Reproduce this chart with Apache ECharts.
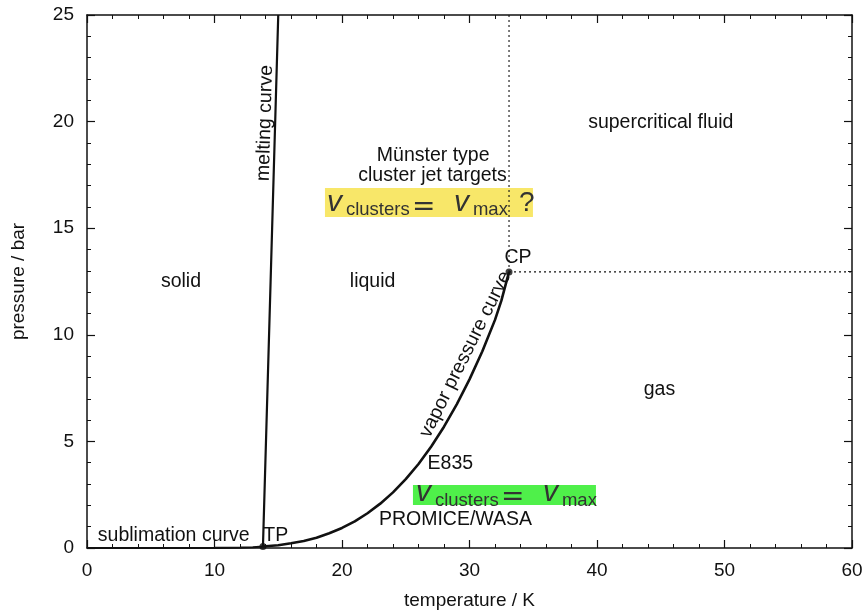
<!DOCTYPE html>
<html>
<head>
<meta charset="utf-8">
<title>Phase diagram of hydrogen</title>
<script src="https://cdn.jsdelivr.net/npm/echarts@6/dist/echarts.min.js"></script>
<style>
  html, body { margin: 0; padding: 0; background: #fff; }
  #chart { width: 868px; height: 610px; }
</style>
</head>
<body>
<div id="chart"></div>
<script>
// Vapor pressure curve (liquid–gas boundary), temperature in K, pressure in bar
const vaporT = [13.8, 14, 15, 16, 17, 18, 19, 20, 21, 22, 23, 24, 25, 26, 27, 28, 29, 30, 31, 32, 32.5, 33.1];
const vaporP = [0.07, 0.08, 0.13, 0.22, 0.33, 0.48, 0.69, 0.94, 1.25, 1.63, 2.08, 2.61, 3.23, 3.94, 4.76, 5.69, 6.74, 7.91, 9.22, 10.7, 11.6, 12.95];

// Melting curve (solid–liquid boundary)
const meltT = [13.8, 14.4, 15.0];
const meltP = [0.07, 12.5, 25];

// Sublimation curve (solid–gas boundary)
const sublT = [0, 4, 8, 10, 12, 13, 13.8];
const sublP = [0, 0, 0.0001, 0.003, 0.016, 0.035, 0.07];

// Triple point and critical point
const triplePoint = [13.8, 0.07];
const criticalPoint = [33.1, 12.95];

// Axis ranges and ticks
const tempRange = [0, 60];
const presRange = [0, 25];
const tempStep = 10;
const presStep = 5;

const FONT = 'Liberation Sans, Arial, Helvetica, sans-serif';
const INK = '#111';

const zip = (xs, ys) => xs.map((x, i) => [x, ys[i]]);

const chart = echarts.init(document.getElementById('chart'), null, { renderer: 'canvas' });

const frameLine = { show: true, onZero: false, lineStyle: { color: INK, width: 1.5 } };
const majorTick = { show: true, inside: true, length: 8, lineStyle: { color: INK, width: 1.2 } };
const minorTick = { show: true, splitNumber: 5, length: 4, lineStyle: { color: INK, width: 1 } };

const option = {
  backgroundColor: '#fff',
  animation: false,
  grid: { left: 87, right: 16, top: 15, bottom: 62, containLabel: false, outerBoundsMode: 'none' },
  xAxis: [
    {
      type: 'value', min: tempRange[0], max: tempRange[1], interval: tempStep,
      position: 'bottom',
      axisLine: frameLine, axisTick: majorTick, minorTick: minorTick,
      splitLine: { show: false },
      axisLabel: { color: INK, fontFamily: FONT, fontSize: 19, margin: 13 },
      name: 'temperature / K', nameLocation: 'middle', nameGap: 43,
      nameTextStyle: { color: INK, fontFamily: FONT, fontSize: 19 }
    },
    {
      type: 'value', min: tempRange[0], max: tempRange[1], interval: tempStep,
      position: 'top',
      axisLine: frameLine, axisTick: majorTick, minorTick: minorTick,
      splitLine: { show: false }, axisLabel: { show: false }
    }
  ],
  yAxis: [
    {
      type: 'value', min: presRange[0], max: presRange[1], interval: presStep,
      position: 'left',
      axisLine: frameLine, axisTick: majorTick, minorTick: minorTick,
      splitLine: { show: false },
      axisLabel: { color: INK, fontFamily: FONT, fontSize: 19, margin: 13 },
      name: 'pressure / bar', nameLocation: 'middle', nameGap: 59,
      nameTextStyle: { color: INK, fontFamily: FONT, fontSize: 19 }
    },
    {
      type: 'value', min: presRange[0], max: presRange[1], interval: presStep,
      position: 'right',
      axisLine: frameLine, axisTick: majorTick, minorTick: minorTick,
      splitLine: { show: false }, axisLabel: { show: false }
    }
  ],
  series: [
    {
      name: 'sublimation', type: 'line', data: zip(sublT, sublP),
      showSymbol: false, clip: true,
      lineStyle: { color: INK, width: 2.2 }, z: 3
    },
    {
      name: 'melting', type: 'line', data: zip(meltT, meltP),
      showSymbol: false, clip: true,
      lineStyle: { color: INK, width: 2.2 }, z: 3
    },
    {
      name: 'vapor', type: 'line', data: zip(vaporT, vaporP),
      showSymbol: false, smooth: false, clip: true,
      lineStyle: { color: INK, width: 2.6, join: 'round' }, z: 3
    },
    {
      name: 'critical isotherm', type: 'line',
      data: [criticalPoint, [criticalPoint[0], presRange[1]]],
      showSymbol: false, clip: true,
      lineStyle: { color: INK, width: 1.1, type: [2, 3] }, z: 2
    },
    {
      name: 'critical isobar', type: 'line',
      data: [criticalPoint, [tempRange[1], criticalPoint[1]]],
      showSymbol: false, clip: true,
      lineStyle: { color: INK, width: 1.1, type: [2, 3] }, z: 2
    },
    {
      name: 'points', type: 'scatter', data: [triplePoint, criticalPoint],
      symbol: 'circle', symbolSize: 7, itemStyle: { color: INK }, z: 4
    }
  ]
};

chart.setOption(option);

// ---- annotations anchored to data coordinates ----
const px = (x, y) => chart.convertToPixel({ gridIndex: 0 }, [x, y]);

function label(text, at, opts) {
  const p = px(at[0], at[1]);
  const o = opts || {};
  return {
    type: 'text', x: p[0], y: p[1], z: 10,
    rotation: (o.angle || 0) * Math.PI / 180,
    style: {
      text: text, fill: INK, fontFamily: FONT, fontSize: o.size || 19.5,
      align: 'center', verticalAlign: 'middle',
      textAlign: 'center', textVerticalAlign: 'middle'
    }
  };
}

// v_clusters = v_max, optionally followed by a question mark.
// Pieces are placed by their vertical middle; offsets are relative to the baseline of "v".
function velocityEquation(at, box, withQuestion, fillColor) {
  const p = px(at[0], at[1]);
  const MATH = 'Liberation Sans, Arial, sans-serif';
  const txtCol = '#333';
  const piece = (text, x, baseline, size, extra) => ({
    type: 'text', x: x, y: baseline - 0.31 * size,
    style: Object.assign({
      text: text, fill: txtCol, fontFamily: MATH, fontSize: size,
      align: 'left', verticalAlign: 'middle',
      textAlign: 'left', textVerticalAlign: 'middle'
    }, extra || {})
  });
  const kids = [
    { type: 'rect', shape: { x: box[0], y: box[1], width: box[2], height: box[3] },
      style: { fill: fillColor }, z: -1 },
    piece('v', 0, 0, 30, { fontStyle: 'italic' }),
    piece('clusters', 19, 4.5, 18.5),
    piece('=', 85, 4.5, 28, { fontFamily: 'DejaVu Sans, sans-serif' }),
    piece('v', 127, 0, 30, { fontStyle: 'italic' }),
    piece('max', 146, 4.5, 18.5)
  ];
  if (withQuestion) kids.push(piece('?', 192, 0, 28));
  return { type: 'group', x: p[0], y: p[1], z: 10, children: kids };
}

chart.setOption({
  graphic: [
    label('solid', [7.37, 12.48]),
    label('liquid', [22.4, 12.48]),
    label('gas', [44.9, 7.41]),
    label('supercritical fluid', [45.0, 19.93]),
    label('Münster type', [27.15, 18.39]),
    label('cluster jet targets', [27.1, 17.45]),
    label('E835', [28.5, 3.94]),
    label('PROMICE/WASA', [28.9, 1.31]),
    label('TP', [14.8, 0.6]),
    label('CP', [33.8, 13.6]),
    label('sublimation curve', [6.8, 0.6]),
    label('melting curve', [13.96, 19.93], { angle: 88.4 }),
    label('vapor pressure curve', [29.68, 9.08], { angle: 63.6 }),
    velocityEquation([18.82, 15.78], [-2, -23.5, 208, 29], true, '#f8e769'),
    velocityEquation([25.80, 2.16], [-3, -17, 183, 20], false, '#4ff04a')
  ]
});
</script>
</body>
</html>
